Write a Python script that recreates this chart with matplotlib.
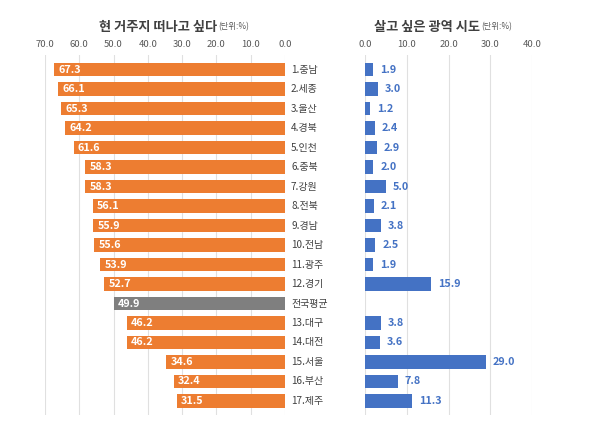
import matplotlib.pyplot as plt
import matplotlib.transforms as mtransforms
import numpy as np

plt.rcParams['font.family'] = ['Noto Sans CJK KR', 'DejaVu Sans']

# data
regions = ['1.충남', '2.세종', '3.울산', '4.경북', '5.인천', '6.충북', '7.강원', '8.전북',
           '9.경남', '10.전남', '11.광주', '12.경기', '전국평균', '13.대구', '14.대전',
           '15.서울', '16.부산', '17.제주']
leave_pct = [67.3, 66.1, 65.3, 64.2, 61.6, 58.3, 58.3, 56.1, 55.9, 55.6, 53.9, 52.7,
             49.9, 46.2, 46.2, 34.6, 32.4, 31.5]
want_pct = [1.9, 3.0, 1.2, 2.4, 2.9, 2.0, 5.0, 2.1, 3.8, 2.5, 1.9, 15.9,
            None, 3.8, 3.6, 29.0, 7.8, 11.3]
avg_label = '전국평균'

ORANGE = '#ED7D31'
BLUE = '#4472C4'
GRAY = '#7F7F7F'

W, H = 600, 438
fig = plt.figure(figsize=(6, 4.38), dpi=100)

top_px, bot_px = 55, 415
ax_b = 1 - bot_px / H
ax_h = (bot_px - top_px) / H

y = np.arange(len(regions))
ylim = (17.72, -0.75)

# left panel
ax1 = fig.add_axes([45 / W, ax_b, 240 / W, ax_h])
colors = [GRAY if r == avg_label else ORANGE for r in regions]
ax1.barh(y, leave_pct, height=0.68, color=colors, zorder=3)
ax1.set_xlim(70, 0)
ax1.set_ylim(*ylim)
ax1.set_xticks(np.arange(0, 71, 10))
ax1.set_xticklabels([f'{v:.1f}' for v in np.arange(0, 71, 10)])

for yi, v in zip(y, leave_pct):
    ax1.annotate(f'{v:.1f}', (v, yi), xytext=(3, 0), textcoords='offset points',
                 ha='left', va='center', color='white', fontsize=7.8,
                 fontweight='bold', zorder=4)

trans = mtransforms.blended_transform_factory(ax1.transAxes, ax1.transData)
for yi, r in zip(y, regions):
    ax1.text(1.025, yi, r, transform=trans, ha='left', va='center',
             fontsize=7.2, color='#404040', clip_on=False)

# right panel
ax2 = fig.add_axes([365 / W, ax_b, 167 / W, ax_h])
yv = [yi for yi, v in zip(y, want_pct) if v is not None]
vv = [v for v in want_pct if v is not None]
ax2.barh(yv, vv, height=0.68, color=BLUE, zorder=3)
ax2.set_xlim(0, 40)
ax2.set_ylim(*ylim)
ax2.set_xticks(np.arange(0, 41, 10))
ax2.set_xticklabels([f'{v:.1f}' for v in np.arange(0, 41, 10)])

for yi, v in zip(yv, vv):
    ax2.annotate(f'{v:.1f}', (v, yi), xytext=(5, 0), textcoords='offset points',
                 ha='left', va='center', color=BLUE, fontsize=7.8,
                 fontweight='bold', zorder=4, annotation_clip=False)

for ax in (ax1, ax2):
    ax.xaxis.tick_top()
    ax.tick_params(axis='x', length=0, pad=4, labelsize=6.8, labelcolor='#595959')
    ax.set_yticks([])
    for s in ax.spines.values():
        s.set_visible(False)
    ax.grid(axis='x', color='#E0E0E0', linewidth=0.8, zorder=0)
    ax.set_axisbelow(True)

# titles
ty = 1 - 27 / H
fig.text(217 / W, ty, '현 거주지 떠나고 싶다', ha='right', va='center',
         fontsize=9.5, fontweight='bold', color='#404040')
fig.text(218 / W, ty, '(단위:%)', ha='left', va='center', fontsize=6, color='#595959')
fig.text(480 / W, ty, '살고 싶은 광역 시도', ha='right', va='center',
         fontsize=9.5, fontweight='bold', color='#404040')
fig.text(481 / W, ty, '(단위:%)', ha='left', va='center', fontsize=6, color='#595959')

fig.savefig('out.png', dpi=100)
